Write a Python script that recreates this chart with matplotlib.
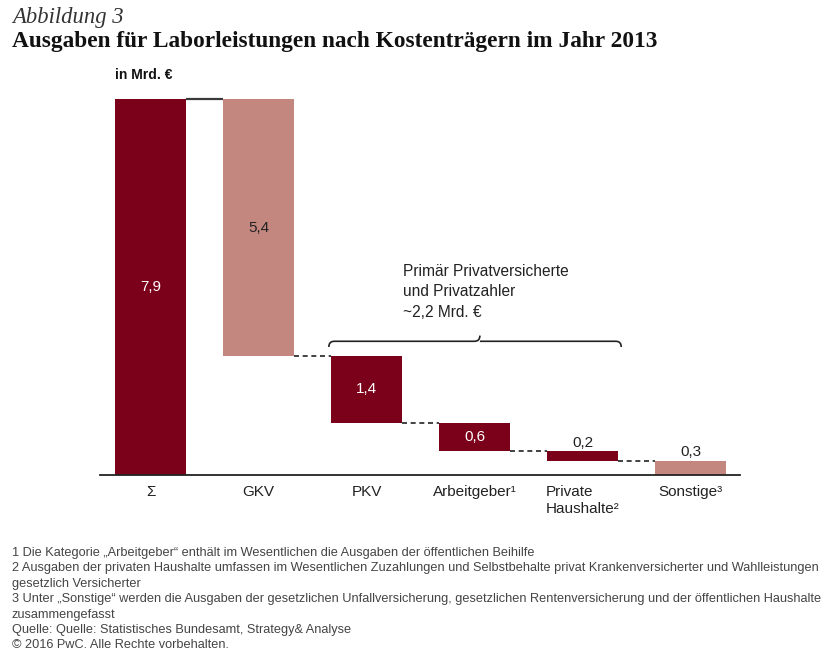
import numpy as np
import matplotlib.pyplot as plt
from matplotlib.path import Path
from matplotlib.patches import PathPatch

# -----------------------------
# DATA
# -----------------------------
categories = ["Σ", "GKV", "PKV", "Arbeitgeber¹", "Private\nHaushalte²", "Sonstige³"]
values = [7.9, 5.4, 1.4, 0.6, 0.2, 0.3]
value_labels = ["7,9", "5,4", "1,4", "0,6", "0,2", "0,3"]
is_total = [True, False, False, False, False, False]
bar_colors = ["#7b0019", "#c4877f", "#7b0019", "#7b0019", "#7b0019", "#c4877f"]
label_inside = [True, True, True, True, False, False]
label_colors = ["white", "#222222", "white", "white", "#222222", "#222222"]
brace_span = (2, 4)  # PKV .. Private Haushalte
brace_text = "Primär Privatversicherte\nund Privatzahler\n~2,2 Mrd. €"

footnotes = [
    "1 Die Kategorie „Arbeitgeber“ enthält im Wesentlichen die Ausgaben der öffentlichen Beihilfe",
    "2 Ausgaben der privaten Haushalte umfassen im Wesentlichen Zuzahlungen und Selbstbehalte privat Krankenversicherter und Wahlleistungen",
    "gesetzlich Versicherter",
    "3 Unter „Sonstige“ werden die Ausgaben der gesetzlichen Unfallversicherung, gesetzlichen Rentenversicherung und der öffentlichen Haushalte",
    "zusammengefasst",
    "Quelle: Quelle: Statistisches Bundesamt, Strategy& Analyse",
    "© 2016 PwC. Alle Rechte vorbehalten.",
]

# -----------------------------
# WATERFALL BASES
# -----------------------------
bottoms = []
level = values[0]
for v, tot in zip(values, is_total):
    if tot:
        bottoms.append(0.0)
    else:
        level -= v
        bottoms.append(level)
tops = [b + v for b, v in zip(bottoms, values)]

plt.rcParams['font.family'] = ['Liberation Sans', 'DejaVu Sans']

fig = plt.figure(figsize=(8.4, 6.54), dpi=100)
fig.patch.set_facecolor("white")
ax = fig.add_axes([100 / 840, 1 - 475 / 654, 640 / 840, 380.7 / 654])

x = np.arange(len(categories))
w = 0.657
ax.bar(x, values, bottom=bottoms, width=w, color=bar_colors, zorder=2)

# connectors
for i in range(len(values) - 1):
    y = tops[i + 1] if i == 0 else bottoms[i]
    if i == 0:
        ax.plot([x[i] + w / 2, x[i + 1] - w / 2], [y, y], color="#3a3a3a", lw=1.6,
                solid_capstyle="butt", zorder=1)
    else:
        ax.plot([x[i] + w / 2, x[i + 1] - w / 2], [y, y], color="#222222", lw=1.2,
                ls=(0, (3, 2.2)), zorder=1)

# value labels
for i, (b, v) in enumerate(zip(bottoms, values)):
    if label_inside[i]:
        ax.text(x[i], b + v / 2, value_labels[i], ha="center", va="center",
                color=label_colors[i], fontsize=11)
    else:
        ax.text(x[i], b + v + 0.03, value_labels[i], ha="center", va="bottom",
                color=label_colors[i], fontsize=11)

# category labels
for i, c in enumerate(categories):
    ax.text(x[i], -0.2, c, ha="center", va="top", fontsize=11, color="#222222",
            multialignment="left", linespacing=1.35)

# brace over the private payers
x0 = x[brace_span[0]] - w / 2 - 0.02
x1 = x[brace_span[1]] + w / 2 + 0.03
yb = bottoms[1] + 0.31
xm = x[brace_span[0]] + 1.05
h = 0.12
verts = [
    (x0, yb - h), (x0, yb), (x0 + 0.05, yb),
    (xm - 0.05, yb), (xm, yb), (xm, yb + h),
    (xm, yb), (xm + 0.05, yb),
    (x1 - 0.05, yb), (x1, yb), (x1, yb - h),
]
codes = [Path.MOVETO, Path.CURVE3, Path.CURVE3,
         Path.LINETO, Path.CURVE3, Path.CURVE3,
         Path.MOVETO, Path.LINETO,
         Path.LINETO, Path.CURVE3, Path.CURVE3]
ax.add_patch(PathPatch(Path(verts, codes), fill=False, lw=1.2, color="#222222"))
ax.text(x[2] + 0.34, yb + 0.45, brace_text, ha="left", va="bottom", fontsize=11.2,
        color="#222222", linespacing=1.45)

ax.set_xlim(-0.467, len(categories) - 1 + 0.458)
ax.set_ylim(0, 8.0)
for s in ["top", "right", "left"]:
    ax.spines[s].set_visible(False)
ax.spines["bottom"].set_color("#222222")
ax.spines["bottom"].set_linewidth(1.3)
ax.set_xticks([])
ax.set_yticks([])
ax.patch.set_alpha(0)

# titles
fig.text(12 / 840, 1 - 17 / 654, "Abbildung 3", fontsize=16.3, style="italic",
         family=["Liberation Serif"], va="center", color="#333333")
fig.text(12 / 840, 1 - 41 / 654, "Ausgaben für Laborleistungen nach Kostenträgern im Jahr 2013",
         fontsize=16.8, weight="bold", family=["Liberation Serif"], va="center", color="#111111")
fig.text(115 / 840, 1 - 75 / 654, "in Mrd. €", fontsize=10, weight="bold", va="center",
         color="#111111")

# footnotes
for k, line in enumerate(footnotes):
    fig.text(12 / 840, 1 - (553 + k * 15.4) / 654, line, fontsize=9.15,
             family=["Liberation Sans Narrow", "Liberation Sans"], va="center", color="#444444")

fig.savefig("out.png", dpi=100, facecolor="white")
